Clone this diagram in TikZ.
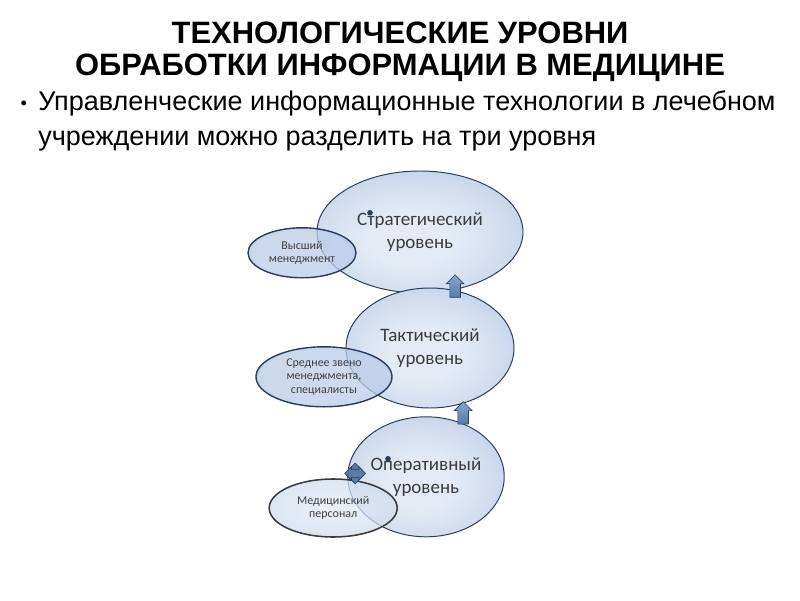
\documentclass[tikz,border=0pt]{standalone}
\usepackage{fontspec}
\setmainfont{Liberation Sans}
\newfontfamily\bubblefont{Carlito}
\usetikzlibrary{positioning,shapes.geometric,shapes.arrows,calc}

\definecolor{rimblue}{RGB}{88,122,168}
\definecolor{edgeblue}{RGB}{136,165,203}
\definecolor{midblue}{RGB}{176,196,224}
\definecolor{lightblue}{RGB}{208,220,237}
\definecolor{coreblue}{RGB}{228,235,245}
\definecolor{edgeline}{RGB}{42,62,92}
\definecolor{labelgray}{RGB}{60,60,60}
\definecolor{staffline}{RGB}{60,60,60}
\definecolor{minorcore}{RGB}{188,205,232}

\pgfdeclareradialshading{bubbleshade}{\pgfpoint{-3bp}{-4bp}}{%
  color(0bp)=(coreblue); color(10bp)=(coreblue); color(24bp)=(lightblue);
  color(36bp)=(midblue); color(45bp)=(edgeblue); color(50bp)=(rimblue)}
\pgfdeclareradialshading{minorshade}{\pgfpoint{0bp}{0bp}}{%
  color(0bp)=(minorcore); color(22bp)=(minorcore); color(38bp)=(edgeblue); color(50bp)=(rimblue)}
\pgfdeclareradialshading{paleshade}{\pgfpoint{0bp}{0bp}}{%
  color(0bp)=(coreblue); color(26bp)=(lightblue); color(42bp)=(midblue); color(50bp)=(edgeblue)}

\begin{document}
\begin{tikzpicture}[
    bubble/.style={
        ellipse,
        draw=edgeline,
        line width=0.7pt,
        shading=bubbleshade,
        inner sep=0pt,
        align=center,
        text=labelgray,
        font=\bubblefont\fontsize{13.5}{16.5}\selectfont
    },
    minor/.style={
        bubble,
        shading=minorshade,
        fill opacity=0.75,
        text opacity=1,
        draw opacity=1,
        line width=1pt,
        text=black!75,
        font=\bubblefont\fontsize{8.5}{9.6}\selectfont
    },
    staffbox/.style={minor, shading=paleshade, draw=staffline, line width=1.1pt},
    uparrow/.style={
        single arrow,
        rotate=90,
        draw=edgeline,
        top color=edgeblue,
        bottom color=rimblue,
        inner xsep=0pt,
        inner ysep=0.125cm,
        minimum height=0.56cm,
        single arrow head extend=0.09cm
    },
    crossarrow/.style={
        double arrow,
        draw=edgeline,
        fill=rimblue,
        inner xsep=0pt,
        inner ysep=0.09cm,
        minimum height=0.52cm,
        double arrow head extend=0.07cm
    }
]
\useasboundingbox (0,0) rectangle (20,15);

% ============================================================
% TITLE
% ============================================================
\node[align=center, font=\fontsize{22}{22.6}\selectfont\bfseries] (title) at (10,13.7)
    {ТЕХНОЛОГИЧЕСКИЕ УРОВНИ\\ОБРАБОТКИ ИНФОРМАЦИИ В МЕДИЦИНЕ};
\node[anchor=north west, align=left, inner sep=0pt, font=\fontsize{19.2}{24.4}\selectfont] (intro) at (0.95,12.73)
    {Управленческие информационные технологии в лечебном\\учреждении можно разделить на три уровня};
\node[anchor=east, font=\fontsize{13}{13}\selectfont, inner sep=0pt] (dot) at (0.68,12.38) {•};

% ============================================================
% LEVELS
% ============================================================
\node[bubble, minimum width=5.15cm, minimum height=3.05cm] (strat) at (10.5,9.2) {Стратегический\\уровень};
\node[bubble, minimum width=4.2cm, minimum height=3.0cm] (tact) at (10.75,6.3) {Тактический\\уровень};
\node[bubble, minimum width=3.6cm, minimum height=3.0cm] (oper) at (10.65,3.08) {Оперативный\\уровень};

\fill[edgeline] (9.25,9.68) circle (0.07);
\fill[edgeline] (9.7,3.53) circle (0.07);

% ============================================================
% STAFF
% ============================================================
\node[minor, minimum width=2.7cm, minimum height=1.25cm] (top) at (7.55,8.68) {Высший\\менеджмент};
\node[minor, minimum width=3.4cm, minimum height=1.5cm] (mid) at (8.1,5.58) {Среднее звено\\менеджмента,\\специалисты};
\node[staffbox, minimum width=3.2cm, minimum height=1.45cm] (staff) at (8.33,2.3) {Медицинский\\персонал};

% ============================================================
% ARROWS
% ============================================================
\node[uparrow] (up1) at ($(tact.north)+(0.63,-0.03)$) {};
\node[uparrow] (up2) at ($(oper.north)+(0.93,0.02)$) {};
\node[crossarrow, rotate=90] (cross1) at ($(staff.north)+(0.55,0.12)$) {};
\node[crossarrow] (cross2) at (cross1) {};

\end{tikzpicture}
\end{document}
